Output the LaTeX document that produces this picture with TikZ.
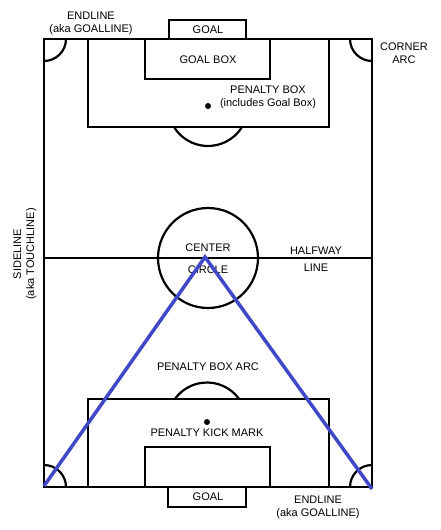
\documentclass[tikz,border=0pt]{standalone}
\usepackage{fontspec}
\setmainfont{Liberation Sans}
\begin{document}
\begin{tikzpicture}[x=1pt,y=-1pt,
  fieldline/.style={draw=black,line width=2.2pt},
  lbl/.style={font=\fontsize{11}{13}\selectfont,inner sep=0pt,align=center},
  spot/.style={circle,fill=black,inner sep=0pt,minimum size=6pt},
  blueline/.style={draw={rgb,255:red,64;green,72;blue,200},line width=3.5pt}]
\useasboundingbox (0,0) rectangle (440,530);
% field
\draw[fieldline] (44,39) rectangle (372,487);
\draw[fieldline] (44,258) -- (372,258);
\draw[fieldline] (208,258) circle[radius=50];
% top
\draw[fieldline] (169,20) rectangle (246,39);
\draw[fieldline] (88,39) rectangle (329,127);
\draw[fieldline] (145,39) rectangle (270,79);
\node[spot] (ts) at (208,106) {};
\draw[fieldline] (208,106) ++(33:40) arc[start angle=33,end angle=147,radius=40];
% bottom
\draw[fieldline] (168,487) rectangle (246,507);
\draw[fieldline] (88,399) rectangle (329,487);
\draw[fieldline] (145,447) rectangle (270,487);
\node[spot] (bs) at (207,422) {};
\draw[fieldline] (207,422) ++(-36:39.5) arc[start angle=-36,end angle=-144,radius=39.5];
% corner arcs
\draw[fieldline] (66,39) arc[start angle=0,end angle=90,radius=22];
\draw[fieldline] (350,39) arc[start angle=180,end angle=90,radius=22];
\draw[fieldline] (66,487) arc[start angle=0,end angle=-90,radius=22];
\draw[fieldline] (350,487) arc[start angle=180,end angle=270,radius=22];
% labels
\node[lbl] (endtop) at (91,23) {ENDLINE\\(aka GOALLINE)};
\node[lbl] (goaltop) at (208,30) {GOAL};
\node[lbl] (goalbox) at (208,60) {GOAL BOX};
\node[lbl] (pbox) at (268,97) {PENALTY BOX\\(includes Goal Box)};
\node[lbl] (corner) at (404,53) {CORNER\\ARC};
\node[lbl,rotate=90] (side) at (25,254) {SIDELINE\\(aka TOUCHLINE)};
\node[lbl] (center) at (208,248) {CENTER};
\node[lbl] (circ) at (208,270) {CIRCLE};
\node[lbl] (halfway) at (316,259) {HALFWAY\\[4pt]LINE};
\node[lbl] (pbarc) at (208,367) {PENALTY BOX ARC};
\node[lbl] (pkm) at (207,433) {PENALTY KICK MARK};
\node[lbl] (goalbot) at (208,497) {GOAL};
\node[lbl] (endbot) at (318,507) {ENDLINE\\(aka GOALLINE)};
% blue lines
\coordinate (bl) at (44,486);
\coordinate (apex) at (205,257);
\coordinate (br) at (372,489);
\draw[blueline,line join=miter] (bl) -- (apex) -- (br);
\end{tikzpicture}
\end{document}
